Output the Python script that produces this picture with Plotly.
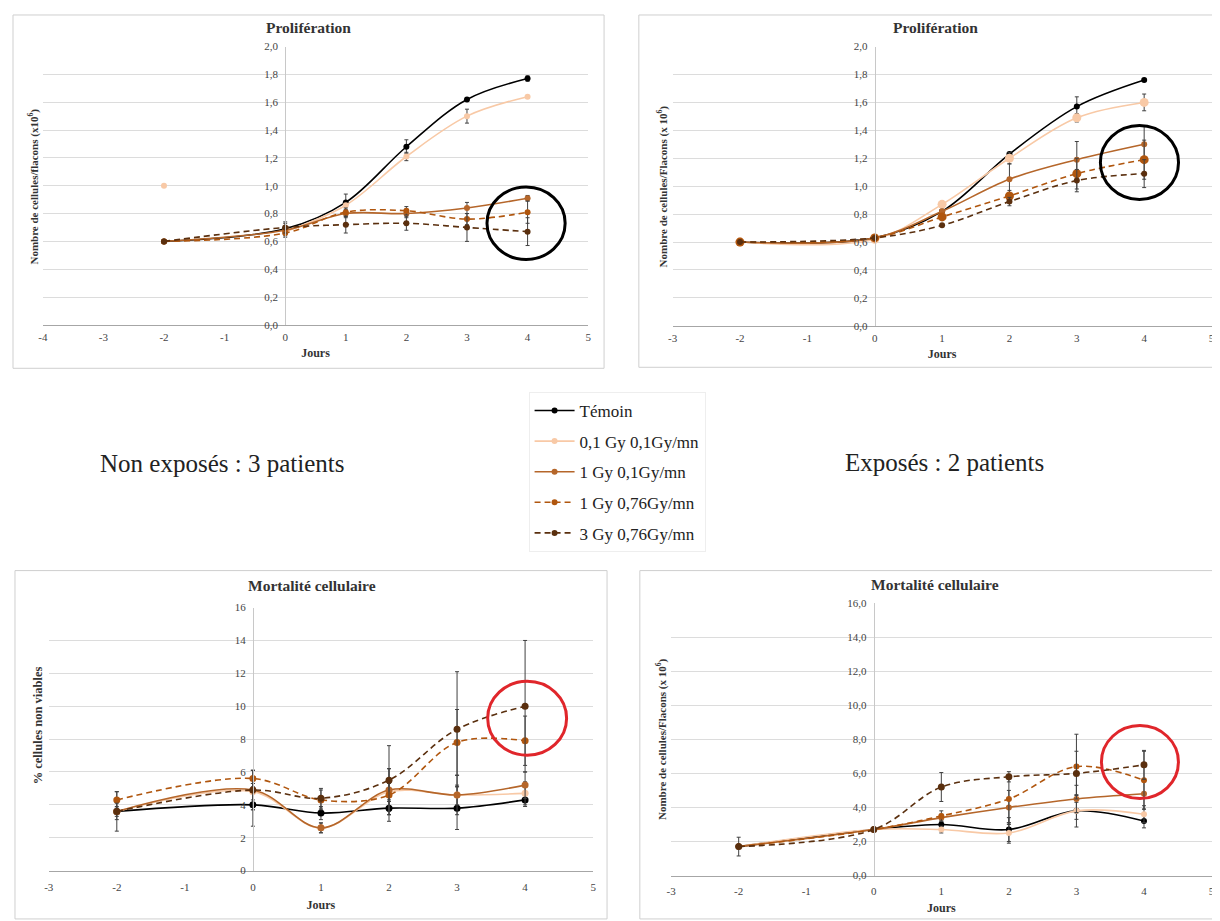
import plotly.graph_objects as go

# ---------------- data ----------------
days = [-2, 0, 1, 2, 3, 4]
days_gap = [-2, -1, 0, 1, 2, 3, 4]

series_names = ["Témoin", "0,1 Gy 0,1Gy/mn", "1 Gy 0,1Gy/mn", "1 Gy 0,76Gy/mn", "3 Gy 0,76Gy/mn"]

# Prolifération - Non exposés
tl_temoin = [0.60, 0.69, 0.88, 1.28, 1.62, 1.77]
tl_p01 = [1.00, None, 0.67, 0.86, 1.21, 1.50, 1.64]
tl_g1_01 = [0.60, 0.68, 0.80, 0.80, 0.84, 0.91]
tl_g1_076 = [0.60, 0.66, 0.81, 0.82, 0.76, 0.81]
tl_g3_076 = [0.60, 0.70, 0.72, 0.73, 0.70, 0.67]
tl_err_temoin = [None, 0.04, 0.06, 0.05, 0.01, 0.02]
tl_err_p01 = [None, None, 0.03, None, 0.03, 0.05, None]
tl_err_g1_01 = [None, 0.03, 0.03, 0.03, 0.04, 0.02]
tl_err_g1_076 = [None, 0.03, 0.03, 0.03, 0.04, 0.08]
tl_err_g3_076 = [None, 0.04, 0.06, 0.05, 0.10, 0.10]

# Prolifération - Exposés
tr_temoin = [0.60, 0.63, 0.82, 1.23, 1.57, 1.76]
tr_p01 = [0.60, 0.62, 0.87, 1.20, 1.49, 1.60]
tr_g1_01 = [0.60, 0.63, 0.82, 1.05, 1.19, 1.30]
tr_g1_076 = [0.60, 0.63, 0.78, 0.93, 1.09, 1.19]
tr_g3_076 = [0.60, 0.63, 0.72, 0.89, 1.04, 1.09]
tr_err_temoin = [None, None, None, 0.01, 0.07, 0.01]
tr_err_p01 = [None, None, None, 0.04, 0.03, 0.06]
tr_err_g1_01 = [None, None, None, 0.11, 0.13, 0.13]
tr_err_g1_076 = [None, None, None, 0.04, 0.11, 0.14]
tr_err_g3_076 = [None, None, None, 0.03, 0.08, 0.10]

# Mortalité cellulaire - Non exposés
bl_temoin = [3.6, 4.0, 3.5, 3.8, 3.8, 4.3]
bl_p01 = [3.6, 4.8, 2.6, 4.8, 4.6, 4.7]
bl_g1_01 = [3.6, 4.9, 2.6, 4.9, 4.6, 5.2]
bl_g1_076 = [4.3, 5.6, 4.3, 4.6, 7.8, 7.9]
bl_g3_076 = [3.6, 4.9, 4.4, 5.5, 8.6, 10.0]
bl_err_temoin = [1.2, 1.3, 0.4, 0.4, 1.3, 0.4]
bl_err_p01 = [None, 0.5, 0.3, 0.5, 0.6, 0.7]
bl_err_g1_01 = [0.3, 1.2, 0.3, 1.3, 1.2, 0.8]
bl_err_g1_076 = [0.5, 0.5, 0.6, 1.6, 2.0, 1.5]
bl_err_g3_076 = [0.5, 1.2, 0.6, 2.1, 3.5, 4.0]

# Mortalité cellulaire - Exposés
br_temoin = [1.7, 2.7, 3.0, 2.7, 3.8, 3.2]
br_p01 = [1.7, 2.7, 2.7, 2.5, 3.8, 3.6]
br_g1_01 = [1.7, 2.7, 3.4, 4.0, 4.5, 4.8]
br_g1_076 = [1.7, 2.7, 3.5, 4.5, 6.4, 5.6]
br_g3_076 = [1.7, 2.7, 5.2, 5.8, 6.0, 6.5]
br_err_temoin = [0.55, 0.1, 0.15, 0.7, 0.95, 0.4]
br_err_p01 = [None, None, 0.2, 0.6, 0.5, 0.5]
br_err_g1_01 = [None, None, 0.2, 1.0, 0.8, 0.9]
br_err_g1_076 = [None, None, 0.3, 1.4, 1.9, 1.7]
br_err_g3_076 = [None, None, 0.85, 0.3, 1.3, 0.85]

xtick_vals_a = [-4, -3, -2, -1, 0, 1, 2, 3, 4, 5]
xtick_text_a = ["-4", "-3", "-2", "-1", "0", "1", "2", "3", "4", "5"]
xtick_vals_b = [-3, -2, -1, 0, 1, 2, 3, 4, 5]
xtick_text_b = ["-3", "-2", "-1", "0", "1", "2", "3", "4", "5"]

# ---------------- styling ----------------
OFF = 8  # page body margin
W, H = 1220 - OFF, 921 - OFF
FONT = "Liberation Serif"
colors = ["#000000", "#F8C9A6", "#B5662A", "#B0560E", "#5A2F0E"]
dashes = ["solid", "solid", "solid", "6px,4px", "6px,4px"]


def px(x):
    return (x - OFF) / W


def py(y):
    return 1 - (y - OFF) / H


panels = [
    dict(x0=38, x1=587, y0=41, y1=323, xr=[-4, 5], yr=[0, 2], dtick=0.2, fmt=".1f",
         tv=xtick_vals_a, tt=xtick_text_a, title="Prolifération", tx=305, ty=22,
         ytitle="Nombre de cellules/flacons (x10<sup>6</sup>)", ytx=29, yty=183, ytsize=11,
         box=(8, 9, 603, 367), tls=2, tst=6, msz=[6, 6, 6, 6, 6],
         data=[(days, tl_temoin, tl_err_temoin), (days_gap, tl_p01, tl_err_p01),
               (days, tl_g1_01, tl_err_g1_01), (days, tl_g1_076, tl_err_g1_076),
               (days, tl_g3_076, tl_err_g3_076)],
         circle=(3.33, 0.47, 4.62, 0.99), ccol="#000000"),
    dict(x0=672, x1=1214.5, y0=41, y1=324, xr=[-3, 5], yr=[0, 2], dtick=0.2, fmt=".1f",
         tv=xtick_vals_b, tt=xtick_text_b, title="Prolifération", tx=937, ty=22,
         ytitle="Nombre de cellules/Flacons (x 10<sup>6</sup>)", ytx=662, yty=183, ytsize=11,
         box=(638, 9, 1219, 366), tls=2, tst=6, msz=[6, 9, 6, 9, 6],
         data=[(days, tr_temoin, tr_err_temoin), (days, tr_p01, tr_err_p01),
               (days, tr_g1_01, tr_err_g1_01), (days, tr_g1_076, tr_err_g1_076),
               (days, tr_g3_076, tr_err_g3_076)],
         circle=(3.35, 0.905, 4.51, 1.435), ccol="#000000"),
    dict(x0=44, x1=592, y0=609.5, y1=876, xr=[-3, 5], yr=[0, 16], dtick=2, fmt="d",
         tv=xtick_vals_b, tt=xtick_text_b, title="Mortalité cellulaire", tx=309, ty=587,
         ytitle="% cellules non viables", ytx=33, yty=729, ytsize=12.5,
         box=(10, 572, 606, 925), tls=6, tst=8, msz=[7, 7, 7, 7, 7],
         data=[(days, bl_temoin, bl_err_temoin), (days, bl_p01, bl_err_p01),
               (days, bl_g1_01, bl_err_g1_01), (days, bl_g1_076, bl_err_g1_076),
               (days, bl_g3_076, bl_err_g3_076)],
         circle=(3.45, 7.02, 4.61, 11.52), ccol="#E0262B"),
    dict(x0=670.5, x1=1214.5, y0=605, y1=881, xr=[-3, 5], yr=[0, 16], dtick=2, fmt=".1f",
         tv=xtick_vals_b, tt=xtick_text_b, title="Mortalité cellulaire", tx=936, ty=586,
         ytitle="Nombre de cellules/Flacons (x 10<sup>6</sup>)", ytx=661, yty=743, ytsize=11,
         box=(639, 572, 1219, 925), tls=5, tst=7, msz=[6, 6, 6, 6, 7],
         data=[(days, br_temoin, br_err_temoin), (days, br_p01, br_err_p01),
               (days, br_g1_01, br_err_g1_01), (days, br_g1_076, br_err_g1_076),
               (days, br_g3_076, br_err_g3_076)],
         circle=(3.37, 4.52, 4.51, 8.81), ccol="#E0262B"),
]

fig = go.Figure()
layout = dict(width=W, height=H, margin=dict(l=0, r=0, t=0, b=0),
              paper_bgcolor="white", plot_bgcolor="white", separators=", ",
              font=dict(family=FONT, color="#222"))
shapes = []
annotations = []

for i, p in enumerate(panels):
    n = i + 1
    xa = "x" if n == 1 else f"x{n}"
    ya = "y" if n == 1 else f"y{n}"
    xdom = [px(p["x0"]), min(1, px(p["x1"]))]
    ydom = [py(p["y1"]), py(p["y0"])]
    xr = list(p["xr"])
    frac = (0 - xr[0]) / (xr[1] - xr[0])
    ypos = xdom[0] + frac * (xdom[1] - xdom[0])
    layout[f"xaxis{n if n > 1 else ''}"] = dict(
        domain=xdom, range=xr, anchor=ya, tickvals=p["tv"], ticktext=p["tt"],
        showgrid=False, zeroline=False, showline=True, linecolor="#a6a6a6", linewidth=1,
        ticks="", ticklabelstandoff=p["tls"], ticklabeloverflow="allow",
        tickfont=dict(size=11, color="#444"),
        title=dict(text="<b>Jours</b>", font=dict(size=12, color="#333"), standoff=p["tst"]))
    layout[f"yaxis{n if n > 1 else ''}"] = dict(
        domain=ydom, range=p["yr"], anchor="free", position=ypos, dtick=p["dtick"],
        tickformat=p["fmt"], showgrid=True, gridcolor="#dcdcdc", zeroline=False,
        showline=True, linecolor="#c8c8c8", linewidth=1, ticks="",
        ticklabelstandoff=5, ticklabeloverflow="allow",
        tickfont=dict(size=11, color="#444"))
    for k, (xs, ys, es) in enumerate(p["data"]):
        fig.add_trace(go.Scatter(
            x=xs, y=ys, xaxis=xa, yaxis=ya, mode="lines+markers",
            name=series_names[k], legendgroup=series_names[k], showlegend=(i == 0),
            line=dict(color=colors[k], width=1.6, dash=dashes[k], shape="spline", smoothing=1.0),
            marker=dict(color=colors[k], size=p["msz"][k]),
            connectgaps=False, cliponaxis=False,
            error_y=dict(type="data", array=es, visible=True, color="#404040",
                         thickness=1, width=2)))
    bx0, by0, bx1, by1 = p["box"]
    shapes.append(dict(type="rect", xref="paper", yref="paper", x0=px(bx0), x1=px(bx1),
                       y0=py(by1), y1=py(by0), line=dict(color="#cfcfcf", width=1)))
    cx0, cy0, cx1, cy1 = p["circle"]
    shapes.append(dict(type="circle", xref=xa, yref=ya, x0=cx0, x1=cx1, y0=cy0, y1=cy1,
                       line=dict(color=p["ccol"], width=3)))
    annotations.append(dict(text=f"<b>{p['title']}</b>", x=px(p["tx"]), y=py(p["ty"]),
                            xref="paper", yref="paper", showarrow=False,
                            font=dict(size=15.5, color="#333"), xanchor="center", yanchor="middle"))
    annotations.append(dict(text=f"<b>{p['ytitle']}</b>", x=px(p["ytx"]), y=py(p["yty"]),
                            xref="paper", yref="paper", showarrow=False, textangle=-90,
                            font=dict(size=p["ytsize"], color="#333"),
                            xanchor="center", yanchor="middle"))

annotations.append(dict(text="Non exposés : 3 patients", x=px(218), y=py(463), xref="paper",
                        yref="paper", showarrow=False, font=dict(size=25, color="#222"),
                        xanchor="center", yanchor="middle"))
annotations.append(dict(text="Exposés : 2 patients", x=px(946), y=py(462), xref="paper",
                        yref="paper", showarrow=False, font=dict(size=25, color="#222"),
                        xanchor="center", yanchor="middle"))

layout["shapes"] = shapes
layout["annotations"] = annotations
layout["legend"] = dict(x=px(527), y=py(391), xanchor="left", yanchor="top",
                        bgcolor="white", bordercolor="#eeeeee", borderwidth=1,
                        font=dict(size=17, color="#222"), tracegroupgap=5.5,
                        itemwidth=40, traceorder="grouped")
layout["showlegend"] = True
fig.update_layout(**layout)
fig.write_html("out.html")
